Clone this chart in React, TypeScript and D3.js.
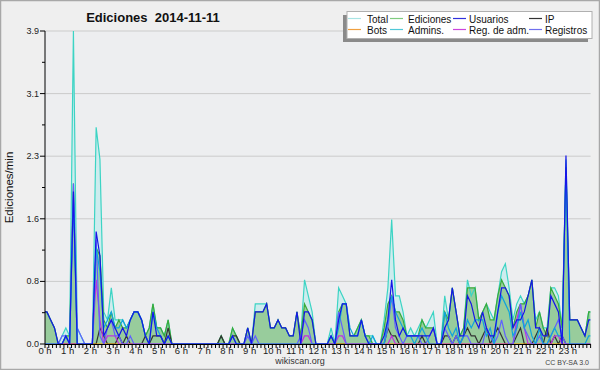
import React from "react";
import * as d3 from "d3";

const hours = d3.range(24).map((h) => `${h} h`);
const seriesNames = ["Total", "Ediciones", "Usuarios", "IP", "Bots", "Admins.", "Reg. de adm.", "Registros"];

const total = [
  0.4,0.3,0.2,0,0.1,0.2, 0.1,3.9,0.2,0.1,0,0, 0,2.7,2.3,0.4,0.3,0.7, 0.3,0.3,0.3,0.2,0.3,0.4,
  0.4,0.3,0.1,0.2,0.5,0.2, 0.2,0.1,0.3,0,0,0, 0,0,0,0,0,0, 0,0,0,0,0.1,0,
  0,0.2,0.1,0,0,0.2, 0,0.5,0.5,0.5,0.5,0.2, 0.2,0.3,0.2,0.2,0.1,0.1, 0.4,0.1,0.8,0.6,0.4,0,
  0,0,0,0.2,0,0.7, 0.6,0.5,0.1,0.1,0.2,0.3, 0.1,0.1,0.1,0,0,0.3, 0.7,1.55,0.6,0.6,0.4,0.1,
  0.2,0.1,0.2,0.3,0.2,0.3, 0.4,0,0,0.6,0.3,0.7, 0.4,0.1,0.2,0.8,0.6,0.7, 0.3,0.4,0.5,0.4,0.3,0.6,
  0.9,1.0,0.7,0.3,0.5,0.6, 0.5,0.6,0.8,0.3,0.4,0.2, 0.2,0.7,0.7,0.6,0.2,2.3, 0.3,0.3,0.3,0.2,0.1,0.4,
];
const ediciones = [
  0.4,0.3,0.2,0,0,0.1, 0.1,2.0,0,0,0,0, 0,1.2,1.1,0.3,0.2,0.4, 0.2,0.3,0.2,0.2,0.3,0.4,
  0.4,0.3,0.1,0.2,0.5,0.2, 0.2,0.1,0.3,0,0,0, 0,0,0,0,0,0, 0,0,0,0,0.1,0,
  0,0.2,0.1,0,0,0.2, 0,0.4,0.4,0.4,0.5,0.2, 0.2,0.3,0.2,0.2,0.1,0.1, 0.4,0.1,0.5,0.4,0.3,0,
  0,0,0,0.1,0,0.4, 0.5,0.5,0.1,0.1,0.2,0.3, 0.1,0.1,0,0,0,0.2, 0.5,0.6,0.4,0.4,0.3,0.1,
  0.1,0.1,0.1,0.3,0.2,0.2, 0.2,0,0,0.4,0.3,0.7, 0.4,0.1,0.2,0.7,0.7,0.7, 0.3,0.4,0.5,0.3,0.3,0.6,
  0.8,0.7,0.6,0.2,0.4,0.5, 0.5,0.6,0.8,0.2,0.4,0.2, 0.1,0.7,0.6,0.5,0.2,2.2, 0.3,0.3,0.3,0.2,0.1,0.4,
];
const usuarios = [
  0.4,0.3,0.2,0,0,0.1, 0,1.9,0,0,0,0, 0,1.4,1.1,0.1,0.2,0.3, 0.2,0.1,0.2,0.1,0.3,0.4,
  0.4,0.3,0.1,0,0.4,0.1, 0.1,0,0.1,0,0,0, 0,0,0,0,0,0, 0,0,0,0,0,0,
  0,0.1,0,0,0,0.2, 0,0.4,0.4,0.4,0.5,0.2, 0.2,0.3,0.2,0.2,0.1,0.1, 0.4,0,0.4,0.4,0.3,0,
  0,0,0,0.1,0,0.3, 0.5,0.5,0.1,0.1,0.1,0.3, 0.1,0,0,0,0,0.1, 0.3,0.8,0.3,0.1,0.2,0.1,
  0.1,0.1,0.1,0.1,0.1,0.1, 0.2,0,0,0.2,0.3,0.7, 0.4,0.1,0.1,0.6,0.5,0.3, 0.2,0.4,0.2,0.1,0.1,0.4,
  0.7,0.7,0.6,0.2,0.3,0.3, 0.4,0.6,0.8,0.2,0.2,0.1, 0.1,0.6,0.5,0.4,0,2.35, 0.3,0.3,0.3,0.2,0.1,0.3,
];
const ip = [
  0,0,0,0,0,0, 0,0,0,0,0,0, 0,0,0.2,0.1,0,0, 0,0.1,0,0.1,0,0,
  0,0,0.1,0,0.1,0.1, 0.1,0,0.2,0,0,0, 0,0,0,0,0,0, 0,0,0,0,0.1,0,
  0,0.1,0.1,0,0,0, 0,0,0,0,0,0, 0,0,0,0,0,0, 0,0,0,0,0,0,
  0,0,0,0,0,0, 0,0,0,0,0,0, 0,0,0,0,0,0, 0.2,0.1,0.1,0,0,0,
  0,0,0,0.1,0,0, 0,0,0,0.1,0.1,0, 0.1,0,0.1,0.2,0.1,0.1, 0,0.1,0.2,0,0.1,0.2,
  0.1,0,0,0,0.1,0.2, 0,0,0,0.1,0.2,0, 0.2,0,0.1,0,0.1,0, 0,0,0,0,0,0,
];
const bots = d3.range(144).map(() => 0);
const admins = [
  0,0,0,0,0,0.1, 0,1.8,0,0,0,0, 0,1.2,0.9,0.2,0.3,0.4, 0.2,0.2,0.3,0.2,0.3,0.4,
  0.4,0.3,0.1,0,0.4,0.2, 0.1,0,0.1,0,0,0, 0,0,0,0,0,0, 0,0,0,0,0,0,
  0,0.1,0,0,0,0, 0,0,0,0,0,0, 0,0,0,0,0,0, 0,0,0,0,0,0,
  0,0,0,0.1,0,0.2, 0.5,0.5,0.2,0.1,0.1,0.3, 0.1,0,0.1,0,0,0, 0.3,0.6,0.4,0.3,0.2,0.1,
  0.1,0,0.1,0.2,0.1,0, 0,0,0,0.4,0.2,0.1, 0.2,0,0.1,0.3,0.2,0.3, 0.3,0.3,0.1,0.2,0,0.4,
  0.6,0.5,0.4,0.1,0.2,0.4, 0.2,0.3,0.1,0,0.2,0, 0,0.1,0.2,0.1,0.1,2.2, 0,0,0,0,0,0.1,
];
const regAdm = [
  0,0,0,0,0,0, 0,0,0,0,0,0, 0,0.8,0.3,0,0.1,0.1, 0.1,0,0,0,0,0,
  0,0,0,0,0,0, 0,0,0,0,0,0, 0,0,0,0,0,0, 0,0,0,0,0,0,
  0,0,0,0,0,0, 0,0,0,0,0,0, 0,0,0,0,0,0, 0,0,0.1,0.1,0,0,
  0,0,0,0,0,0.1, 0.1,0,0,0,0,0, 0,0,0,0,0,0, 0,0.1,0,0,0,0,
  0,0,0,0,0,0, 0,0,0,0,0,0, 0,0,0,0,0,0, 0,0,0,0,0,0,
  0,0,0,0,0.3,0.5, 0.2,0,0,0,0,0, 0,0,0.1,0.1,0,0, 0,0,0,0,0,0,
];
const registros = [
  0,0,0,0,0.1,0.1, 0,2.0,0.2,0.1,0,0, 0,1.3,0.1,0,0.2,0.3, 0.1,0.1,0,0,0.1,0,
  0,0,0,0,0,0, 0,0,0,0,0,0, 0,0,0,0,0,0, 0,0,0,0,0,0,
  0,0,0,0,0,0.1, 0,0.1,0,0,0,0, 0,0,0,0,0,0, 0,0.1,0.3,0.2,0,0,
  0,0,0,0,0,0.4, 0.2,0,0,0,0,0, 0,0,0,0,0,0, 0.2,0.6,0.2,0.1,0,0.1,
  0.1,0.1,0.1,0,0,0.1, 0.2,0,0,0.2,0.1,0, 0.1,0,0.1,0.1,0,0, 0,0,0.2,0.1,0,0.1,
  0.3,0.1,0,0,0.2,0.5, 0.2,0.1,0,0,0.1,0, 0,0.1,0.2,0.3,0.1,0, 0,0,0,0,0,0,
];

const W = 600, H = 370;
const L = 45, R = 590.6, T = 31, B = 344;
const yMax = 3.9;

const x = d3.scaleLinear().domain([0, 144]).range([L, R]);
const y = d3.scaleLinear().domain([0, yMax]).range([B, T]);

type Pt = [number, number];
function pts(vals: number[]): Pt[] {
  const p: Pt[] = vals.map((v, i) => [i + 0.5, v]);
  return [[0, vals[0]], ...p, [144, vals[vals.length - 1]]];
}
const line = d3.line<Pt>().x((d) => x(d[0])).y((d) => y(d[1]));
const area = d3.area<Pt>().x((d) => x(d[0])).y0(y(0)).y1((d) => y(d[1]));

const lineSeries = [
  { vals: ip, color: "#333333" },
  { vals: bots, color: "#ff9900" },
  { vals: regAdm, color: "#c030e0" },
  { vals: registros, color: "#6060ff" },
  { vals: admins, color: "#10a4dc" },
  { vals: usuarios, color: "#1515e8" },
];

const legendColors = ["#a8e4e4", "#80cc80", "#3030dd", "#333333", "#f0a040", "#50c8d8", "#cc44dd", "#7070ee"];

const majorTicks = d3.range(6).map((k) => (k * yMax) / 5);
const minorTicks = d3.range(5).map((k) => ((k + 0.5) * yMax) / 5);

export default function App() {
  const font = "'Liberation Sans', Arial, sans-serif";
  return (
    <svg width={W} height={H} style={{ position: "absolute", left: 0, top: 0 }} fontFamily={font}>
      <defs>
        <clipPath id="plot">
          <rect x={L} y={T - 5} width={R - L} height={B - T + 5} />
        </clipPath>
      </defs>
      <rect x={0.5} y={0.5} width={W - 1} height={H - 1} fill="#efefef" stroke="#a8a8a8" strokeWidth={1.5} />
      <rect x={L} y={T} width={R - L} height={B - T} fill="#edeef0" />
      {majorTicks.slice(1).map((t) => (
        <line key={t} x1={L} x2={R} y1={y(t)} y2={y(t)} stroke="#cbcbcb" strokeWidth={1} />
      ))}
      <g clipPath="url(#plot)">
        <path d={area(pts(total)) || ""} fill="#cdecee" />
        <path d={area(pts(ediciones)) || ""} fill="#98cc9c" />
        <path d={line(pts(total)) || ""} fill="none" stroke="#3cd4c4" strokeWidth={1.2} />
        <path d={line(pts(ediciones)) || ""} fill="none" stroke="#3aaa3a" strokeWidth={1.2} />
        {lineSeries.map((s, i) => (
          <path key={i} d={line(pts(s.vals)) || ""} fill="none" stroke={s.color} strokeWidth={1.2} />
        ))}
      </g>
      {/* axes */}
      <line x1={L} x2={L} y1={T} y2={B} stroke="#000" strokeWidth={1} />
      <line x1={L} x2={R} y1={B + 0.5} y2={B + 0.5} stroke="#000" strokeWidth={1.2} />
      {majorTicks.map((t) => (
        <g key={"m" + t}>
          <line x1={L - 5} x2={L} y1={y(t)} y2={y(t)} stroke="#000" />
          <text x={L - 6} y={y(t) + 3} fontSize={9} textAnchor="end" fill="#222">
            {t.toFixed(1)}
          </text>
        </g>
      ))}
      {minorTicks.map((t) => (
        <line key={"n" + t} x1={L - 3} x2={L} y1={y(t)} y2={y(t)} stroke="#000" />
      ))}
      {d3.range(145).map((k) => (
        <line key={"x" + k} x1={x(k)} x2={x(k)} y1={B} y2={B + 4} stroke="#000" strokeWidth={1} />
      ))}
      {hours.map((h, i) => (
        <text key={h} x={x(i * 6)} y={354} fontSize={9.5} textAnchor="middle" fill="#222">
          {h}
        </text>
      ))}
      <text x={153} y={22} fontSize={13} fontWeight="bold" textAnchor="middle" fill="#111" style={{ whiteSpace: "pre" }}>
        {"Ediciones  2014-11-11"}
      </text>
      <text transform={`translate(13,${(T + B) / 2}) rotate(-90)`} fontSize={11.5} textAnchor="middle" fill="#111">
        Ediciones/min
      </text>
      {/* legend */}
      <rect x={343} y={15} width={245} height={27} fill="#8a8a8a" />
      <rect x={347} y={11.5} width={245} height={27} fill="#ffffff" stroke="#b0b0b0" strokeWidth={1} />
      {seriesNames.map((n, i) => {
        const col = i % 4;
        const row = Math.floor(i / 4);
        const lx = [348, 390, 453, 529][col];
        const tx = [367, 408, 469, 545][col];
        const ly = 18.5 + row * 11;
        return (
          <g key={n}>
            <line x1={lx} x2={lx + 13} y1={ly} y2={ly} stroke={legendColors[i]} strokeWidth={1.2} />
            <text x={tx} y={ly + 4} fontSize={10} fill="#111">
              {n}
            </text>
          </g>
        );
      })}
      <text x={300} y={364} fontSize={9} textAnchor="middle" fill="#333">
        wikiscan.org
      </text>
      <text x={589} y={365} fontSize={7} textAnchor="end" fill="#444">
        CC BY-SA 3.0
      </text>
    </svg>
  );
}
